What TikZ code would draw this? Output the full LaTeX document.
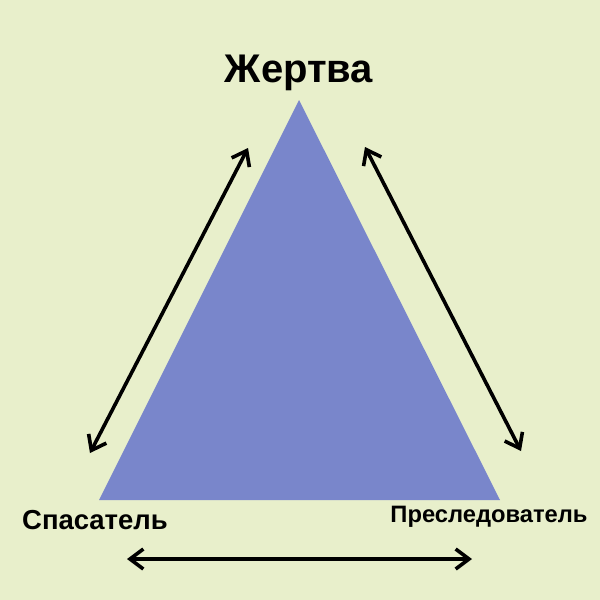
\documentclass[tikz,border=0pt]{standalone}
\usepackage{fontspec}
\setmainfont{Liberation Sans}
\usetikzlibrary{arrows.meta}
\definecolor{bgcol}{HTML}{E8EFCB}
\definecolor{tricol}{HTML}{7986CB}
\begin{document}
\begin{tikzpicture}[x=0.75pt,y=-0.75pt,
  lbl/.style={font=\bfseries, text=black, inner sep=0pt},
  dbl/.style={line width=2.7pt, {Straight Barb[length=10pt,width=15pt]}-{Straight Barb[length=10pt,width=15pt]}, black}]
\fill[bgcol] (0,0) rectangle (600,600);
\useasboundingbox (0,0) rectangle (600,600);
\coordinate (A) at (299,100);
\coordinate (B) at (99,500);
\coordinate (C) at (500,500);
\fill[tricol] (A) -- (B) -- (C) -- cycle;
\node[lbl, font=\bfseries\fontsize{30}{33}\selectfont] (victim) at (299,73) {Жертва};
\node[lbl, font=\bfseries\fontsize{20.6}{24}\selectfont] (rescuer) at (95,520) {Спасатель};
\node[lbl, font=\bfseries\fontsize{17.8}{21}\selectfont] (persecutor) at (489,517) {Преследователь};
\coordinate (l1) at (248,148);
\coordinate (l2) at (90,453);
\coordinate (r1) at (365,147);
\coordinate (r2) at (521,451);
\coordinate (b1) at (127,559);
\coordinate (b2) at (472,559);
\draw[dbl] (l1) -- (l2);
\draw[dbl] (r1) -- (r2);
\draw[dbl] (b1) -- (b2);
\end{tikzpicture}
\end{document}
